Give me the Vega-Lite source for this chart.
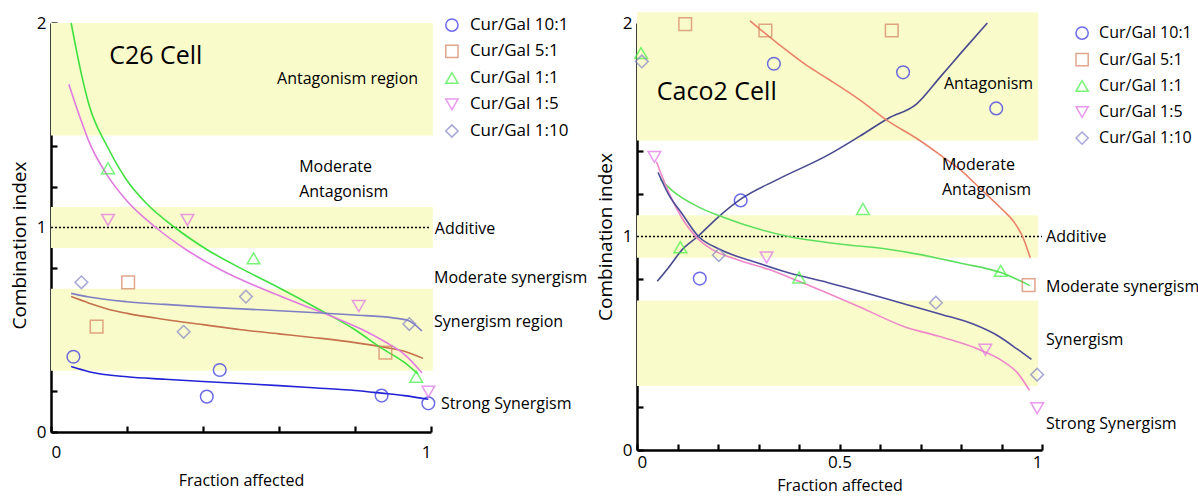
{
  "$schema": "https://vega.github.io/schema/vega-lite/v6.json",
  "padding": {"left": 10, "top": 12, "right": 0, "bottom": 4},
  "background": "white",
  "config": {
    "font": "Open Sans",
    "view": {"stroke": null},
    "axis": {
      "domainColor": "black", "domainWidth": 2.5, "tickColor": "black", "tickWidth": 2.2, "tickSize": -6,
      "labelFont": "Open Sans", "labelFontSize": 17, "labelColor": "black", "titleFont": "Open Sans",
      "titleFontSize": 16, "titleFontWeight": "normal", "titleColor": "black", "grid": false
    }
  },
  "datasets": {
    "pts": [
      {"panel": "L", "series": "Cur/Gal 10:1", "fa": 0.059, "ci": 0.368},
      {"panel": "L", "series": "Cur/Gal 10:1", "fa": 0.41, "ci": 0.173},
      {"panel": "L", "series": "Cur/Gal 10:1", "fa": 0.444, "ci": 0.303},
      {"panel": "L", "series": "Cur/Gal 10:1", "fa": 0.87, "ci": 0.178},
      {"panel": "L", "series": "Cur/Gal 10:1", "fa": 0.993, "ci": 0.14},
      {"panel": "L", "series": "Cur/Gal 5:1", "fa": 0.12, "ci": 0.515},
      {"panel": "L", "series": "Cur/Gal 5:1", "fa": 0.203, "ci": 0.732},
      {"panel": "L", "series": "Cur/Gal 5:1", "fa": 0.88, "ci": 0.388},
      {"panel": "L", "series": "Cur/Gal 1:1", "fa": 0.15, "ci": 1.29},
      {"panel": "L", "series": "Cur/Gal 1:1", "fa": 0.533, "ci": 0.849},
      {"panel": "L", "series": "Cur/Gal 1:1", "fa": 0.961, "ci": 0.27},
      {"panel": "L", "series": "Cur/Gal 1:5", "fa": 0.15, "ci": 1.037},
      {"panel": "L", "series": "Cur/Gal 1:5", "fa": 0.359, "ci": 1.037},
      {"panel": "L", "series": "Cur/Gal 1:5", "fa": 0.81, "ci": 0.616},
      {"panel": "L", "series": "Cur/Gal 1:5", "fa": 0.993, "ci": 0.197},
      {"panel": "L", "series": "Cur/Gal 1:10", "fa": 0.08, "ci": 0.732},
      {"panel": "L", "series": "Cur/Gal 1:10", "fa": 0.349, "ci": 0.49},
      {"panel": "L", "series": "Cur/Gal 1:10", "fa": 0.513, "ci": 0.662},
      {"panel": "L", "series": "Cur/Gal 1:10", "fa": 0.943, "ci": 0.528},
      {"panel": "R", "series": "Cur/Gal 10:1", "fa": 0.155, "ci": 0.803},
      {"panel": "R", "series": "Cur/Gal 10:1", "fa": 0.256, "ci": 1.169},
      {"panel": "R", "series": "Cur/Gal 10:1", "fa": 0.338, "ci": 1.809},
      {"panel": "R", "series": "Cur/Gal 10:1", "fa": 0.657, "ci": 1.769},
      {"panel": "R", "series": "Cur/Gal 10:1", "fa": 0.887, "ci": 1.6},
      {"panel": "R", "series": "Cur/Gal 5:1", "fa": 0.119, "ci": 1.995},
      {"panel": "R", "series": "Cur/Gal 5:1", "fa": 0.317, "ci": 1.965},
      {"panel": "R", "series": "Cur/Gal 5:1", "fa": 0.629, "ci": 1.965},
      {"panel": "R", "series": "Cur/Gal 5:1", "fa": 0.967, "ci": 0.772},
      {"panel": "R", "series": "Cur/Gal 1:1", "fa": 0.01, "ci": 1.859},
      {"panel": "R", "series": "Cur/Gal 1:1", "fa": 0.107, "ci": 0.95},
      {"panel": "R", "series": "Cur/Gal 1:1", "fa": 0.4, "ci": 0.808},
      {"panel": "R", "series": "Cur/Gal 1:1", "fa": 0.558, "ci": 1.129},
      {"panel": "R", "series": "Cur/Gal 1:1", "fa": 0.898, "ci": 0.839},
      {"panel": "R", "series": "Cur/Gal 1:5", "fa": 0.043, "ci": 1.373},
      {"panel": "R", "series": "Cur/Gal 1:5", "fa": 0.32, "ci": 0.902},
      {"panel": "R", "series": "Cur/Gal 1:5", "fa": 0.86, "ci": 0.47},
      {"panel": "R", "series": "Cur/Gal 1:5", "fa": 0.988, "ci": 0.196},
      {"panel": "R", "series": "Cur/Gal 1:10", "fa": 0.012, "ci": 1.82},
      {"panel": "R", "series": "Cur/Gal 1:10", "fa": 0.202, "ci": 0.913},
      {"panel": "R", "series": "Cur/Gal 1:10", "fa": 0.738, "ci": 0.69},
      {"panel": "R", "series": "Cur/Gal 1:10", "fa": 0.988, "ci": 0.353}
    ],
    "legend": [
      {"panel": "L", "series": "Cur/Gal 10:1", "fa": 1.055, "ci": 1.99},
      {"panel": "L", "series": "Cur/Gal 5:1", "fa": 1.055, "ci": 1.861},
      {"panel": "L", "series": "Cur/Gal 1:1", "fa": 1.055, "ci": 1.731},
      {"panel": "L", "series": "Cur/Gal 1:5", "fa": 1.055, "ci": 1.602},
      {"panel": "L", "series": "Cur/Gal 1:10", "fa": 1.055, "ci": 1.472},
      {"panel": "R", "series": "Cur/Gal 10:1", "fa": 1.099, "ci": 1.953},
      {"panel": "R", "series": "Cur/Gal 5:1", "fa": 1.099, "ci": 1.829},
      {"panel": "R", "series": "Cur/Gal 1:1", "fa": 1.099, "ci": 1.705},
      {"panel": "R", "series": "Cur/Gal 1:5", "fa": 1.099, "ci": 1.583},
      {"panel": "R", "series": "Cur/Gal 1:10", "fa": 1.099, "ci": 1.461}
    ],
    "curves": [
      {"panel": "L", "series": "Cur/Gal 10:1", "fa": 0.053, "ci": 0.32},
      {"panel": "L", "series": "Cur/Gal 10:1", "fa": 0.1, "ci": 0.295},
      {"panel": "L", "series": "Cur/Gal 10:1", "fa": 0.2, "ci": 0.27},
      {"panel": "L", "series": "Cur/Gal 10:1", "fa": 0.3, "ci": 0.258},
      {"panel": "L", "series": "Cur/Gal 10:1", "fa": 0.4, "ci": 0.247},
      {"panel": "L", "series": "Cur/Gal 10:1", "fa": 0.5, "ci": 0.237},
      {"panel": "L", "series": "Cur/Gal 10:1", "fa": 0.6, "ci": 0.227},
      {"panel": "L", "series": "Cur/Gal 10:1", "fa": 0.7, "ci": 0.215},
      {"panel": "L", "series": "Cur/Gal 10:1", "fa": 0.8, "ci": 0.203},
      {"panel": "L", "series": "Cur/Gal 10:1", "fa": 0.87, "ci": 0.19},
      {"panel": "L", "series": "Cur/Gal 10:1", "fa": 0.93, "ci": 0.178},
      {"panel": "L", "series": "Cur/Gal 10:1", "fa": 0.993, "ci": 0.16},
      {"panel": "L", "series": "Cur/Gal 5:1", "fa": 0.053, "ci": 0.662},
      {"panel": "L", "series": "Cur/Gal 5:1", "fa": 0.1, "ci": 0.63},
      {"panel": "L", "series": "Cur/Gal 5:1", "fa": 0.15, "ci": 0.6},
      {"panel": "L", "series": "Cur/Gal 5:1", "fa": 0.2, "ci": 0.58},
      {"panel": "L", "series": "Cur/Gal 5:1", "fa": 0.3, "ci": 0.55},
      {"panel": "L", "series": "Cur/Gal 5:1", "fa": 0.4, "ci": 0.525},
      {"panel": "L", "series": "Cur/Gal 5:1", "fa": 0.5, "ci": 0.5},
      {"panel": "L", "series": "Cur/Gal 5:1", "fa": 0.6, "ci": 0.48},
      {"panel": "L", "series": "Cur/Gal 5:1", "fa": 0.7, "ci": 0.46},
      {"panel": "L", "series": "Cur/Gal 5:1", "fa": 0.8, "ci": 0.437},
      {"panel": "L", "series": "Cur/Gal 5:1", "fa": 0.87, "ci": 0.417},
      {"panel": "L", "series": "Cur/Gal 5:1", "fa": 0.93, "ci": 0.395},
      {"panel": "L", "series": "Cur/Gal 5:1", "fa": 0.979, "ci": 0.36},
      {"panel": "L", "series": "Cur/Gal 1:1", "fa": 0.053, "ci": 2.0},
      {"panel": "L", "series": "Cur/Gal 1:1", "fa": 0.08, "ci": 1.75},
      {"panel": "L", "series": "Cur/Gal 1:1", "fa": 0.1, "ci": 1.6},
      {"panel": "L", "series": "Cur/Gal 1:1", "fa": 0.15, "ci": 1.39},
      {"panel": "L", "series": "Cur/Gal 1:1", "fa": 0.2, "ci": 1.23},
      {"panel": "L", "series": "Cur/Gal 1:1", "fa": 0.25, "ci": 1.12},
      {"panel": "L", "series": "Cur/Gal 1:1", "fa": 0.326, "ci": 1.0},
      {"panel": "L", "series": "Cur/Gal 1:1", "fa": 0.412, "ci": 0.89},
      {"panel": "L", "series": "Cur/Gal 1:1", "fa": 0.5, "ci": 0.8},
      {"panel": "L", "series": "Cur/Gal 1:1", "fa": 0.6, "ci": 0.705},
      {"panel": "L", "series": "Cur/Gal 1:1", "fa": 0.7, "ci": 0.605},
      {"panel": "L", "series": "Cur/Gal 1:1", "fa": 0.8, "ci": 0.5},
      {"panel": "L", "series": "Cur/Gal 1:1", "fa": 0.87, "ci": 0.41},
      {"panel": "L", "series": "Cur/Gal 1:1", "fa": 0.93, "ci": 0.34},
      {"panel": "L", "series": "Cur/Gal 1:1", "fa": 0.965, "ci": 0.285},
      {"panel": "L", "series": "Cur/Gal 1:5", "fa": 0.047, "ci": 1.7},
      {"panel": "L", "series": "Cur/Gal 1:5", "fa": 0.08, "ci": 1.52},
      {"panel": "L", "series": "Cur/Gal 1:5", "fa": 0.1, "ci": 1.42},
      {"panel": "L", "series": "Cur/Gal 1:5", "fa": 0.15, "ci": 1.25},
      {"panel": "L", "series": "Cur/Gal 1:5", "fa": 0.2, "ci": 1.13},
      {"panel": "L", "series": "Cur/Gal 1:5", "fa": 0.276, "ci": 1.0},
      {"panel": "L", "series": "Cur/Gal 1:5", "fa": 0.357, "ci": 0.89},
      {"panel": "L", "series": "Cur/Gal 1:5", "fa": 0.45, "ci": 0.79},
      {"panel": "L", "series": "Cur/Gal 1:5", "fa": 0.55, "ci": 0.705},
      {"panel": "L", "series": "Cur/Gal 1:5", "fa": 0.65, "ci": 0.63},
      {"panel": "L", "series": "Cur/Gal 1:5", "fa": 0.74, "ci": 0.565},
      {"panel": "L", "series": "Cur/Gal 1:5", "fa": 0.82, "ci": 0.5},
      {"panel": "L", "series": "Cur/Gal 1:5", "fa": 0.88, "ci": 0.44},
      {"panel": "L", "series": "Cur/Gal 1:5", "fa": 0.93, "ci": 0.38},
      {"panel": "L", "series": "Cur/Gal 1:5", "fa": 0.976, "ci": 0.29},
      {"panel": "L", "series": "Cur/Gal 1:10", "fa": 0.053, "ci": 0.678},
      {"panel": "L", "series": "Cur/Gal 1:10", "fa": 0.1, "ci": 0.66},
      {"panel": "L", "series": "Cur/Gal 1:10", "fa": 0.2, "ci": 0.637},
      {"panel": "L", "series": "Cur/Gal 1:10", "fa": 0.3, "ci": 0.624},
      {"panel": "L", "series": "Cur/Gal 1:10", "fa": 0.4, "ci": 0.612},
      {"panel": "L", "series": "Cur/Gal 1:10", "fa": 0.5, "ci": 0.602},
      {"panel": "L", "series": "Cur/Gal 1:10", "fa": 0.6, "ci": 0.593},
      {"panel": "L", "series": "Cur/Gal 1:10", "fa": 0.7, "ci": 0.583},
      {"panel": "L", "series": "Cur/Gal 1:10", "fa": 0.8, "ci": 0.572},
      {"panel": "L", "series": "Cur/Gal 1:10", "fa": 0.9, "ci": 0.558},
      {"panel": "L", "series": "Cur/Gal 1:10", "fa": 0.94, "ci": 0.545},
      {"panel": "L", "series": "Cur/Gal 1:10", "fa": 0.976, "ci": 0.494},
      {"panel": "R", "series": "Cur/Gal 10:1", "fa": 0.05, "ci": 0.79},
      {"panel": "R", "series": "Cur/Gal 10:1", "fa": 0.08, "ci": 0.86},
      {"panel": "R", "series": "Cur/Gal 10:1", "fa": 0.11, "ci": 0.935},
      {"panel": "R", "series": "Cur/Gal 10:1", "fa": 0.15, "ci": 1.0},
      {"panel": "R", "series": "Cur/Gal 10:1", "fa": 0.2, "ci": 1.09},
      {"panel": "R", "series": "Cur/Gal 10:1", "fa": 0.256, "ci": 1.175},
      {"panel": "R", "series": "Cur/Gal 10:1", "fa": 0.35, "ci": 1.27},
      {"panel": "R", "series": "Cur/Gal 10:1", "fa": 0.47, "ci": 1.38},
      {"panel": "R", "series": "Cur/Gal 10:1", "fa": 0.55, "ci": 1.47},
      {"panel": "R", "series": "Cur/Gal 10:1", "fa": 0.62, "ci": 1.553},
      {"panel": "R", "series": "Cur/Gal 10:1", "fa": 0.69, "ci": 1.62},
      {"panel": "R", "series": "Cur/Gal 10:1", "fa": 0.75, "ci": 1.75},
      {"panel": "R", "series": "Cur/Gal 10:1", "fa": 0.8, "ci": 1.86},
      {"panel": "R", "series": "Cur/Gal 10:1", "fa": 0.865, "ci": 2.0},
      {"panel": "R", "series": "Cur/Gal 5:1", "fa": 0.279, "ci": 2.01},
      {"panel": "R", "series": "Cur/Gal 5:1", "fa": 0.35, "ci": 1.9},
      {"panel": "R", "series": "Cur/Gal 5:1", "fa": 0.42, "ci": 1.8},
      {"panel": "R", "series": "Cur/Gal 5:1", "fa": 0.47, "ci": 1.74},
      {"panel": "R", "series": "Cur/Gal 5:1", "fa": 0.55, "ci": 1.64},
      {"panel": "R", "series": "Cur/Gal 5:1", "fa": 0.62, "ci": 1.54},
      {"panel": "R", "series": "Cur/Gal 5:1", "fa": 0.69, "ci": 1.46},
      {"panel": "R", "series": "Cur/Gal 5:1", "fa": 0.75, "ci": 1.38},
      {"panel": "R", "series": "Cur/Gal 5:1", "fa": 0.8, "ci": 1.31},
      {"panel": "R", "series": "Cur/Gal 5:1", "fa": 0.85, "ci": 1.22},
      {"panel": "R", "series": "Cur/Gal 5:1", "fa": 0.9, "ci": 1.13},
      {"panel": "R", "series": "Cur/Gal 5:1", "fa": 0.93, "ci": 1.07},
      {"panel": "R", "series": "Cur/Gal 5:1", "fa": 0.952, "ci": 1.0},
      {"panel": "R", "series": "Cur/Gal 5:1", "fa": 0.971, "ci": 0.9},
      {"panel": "R", "series": "Cur/Gal 1:1", "fa": 0.057, "ci": 1.27},
      {"panel": "R", "series": "Cur/Gal 1:1", "fa": 0.09, "ci": 1.21},
      {"panel": "R", "series": "Cur/Gal 1:1", "fa": 0.15, "ci": 1.14},
      {"panel": "R", "series": "Cur/Gal 1:1", "fa": 0.213, "ci": 1.09},
      {"panel": "R", "series": "Cur/Gal 1:1", "fa": 0.3, "ci": 1.035},
      {"panel": "R", "series": "Cur/Gal 1:1", "fa": 0.374, "ci": 1.0},
      {"panel": "R", "series": "Cur/Gal 1:1", "fa": 0.5, "ci": 0.965},
      {"panel": "R", "series": "Cur/Gal 1:1", "fa": 0.62, "ci": 0.94},
      {"panel": "R", "series": "Cur/Gal 1:1", "fa": 0.7, "ci": 0.915},
      {"panel": "R", "series": "Cur/Gal 1:1", "fa": 0.8, "ci": 0.875},
      {"panel": "R", "series": "Cur/Gal 1:1", "fa": 0.9, "ci": 0.83},
      {"panel": "R", "series": "Cur/Gal 1:1", "fa": 0.97, "ci": 0.77},
      {"panel": "R", "series": "Cur/Gal 1:5", "fa": 0.048, "ci": 1.35},
      {"panel": "R", "series": "Cur/Gal 1:5", "fa": 0.08, "ci": 1.2},
      {"panel": "R", "series": "Cur/Gal 1:5", "fa": 0.11, "ci": 1.09},
      {"panel": "R", "series": "Cur/Gal 1:5", "fa": 0.15, "ci": 0.99},
      {"panel": "R", "series": "Cur/Gal 1:5", "fa": 0.185, "ci": 0.94},
      {"panel": "R", "series": "Cur/Gal 1:5", "fa": 0.25, "ci": 0.89},
      {"panel": "R", "series": "Cur/Gal 1:5", "fa": 0.326, "ci": 0.845},
      {"panel": "R", "series": "Cur/Gal 1:5", "fa": 0.4, "ci": 0.79},
      {"panel": "R", "series": "Cur/Gal 1:5", "fa": 0.468, "ci": 0.737},
      {"panel": "R", "series": "Cur/Gal 1:5", "fa": 0.55, "ci": 0.67},
      {"panel": "R", "series": "Cur/Gal 1:5", "fa": 0.657, "ci": 0.58},
      {"panel": "R", "series": "Cur/Gal 1:5", "fa": 0.75, "ci": 0.53},
      {"panel": "R", "series": "Cur/Gal 1:5", "fa": 0.846, "ci": 0.47},
      {"panel": "R", "series": "Cur/Gal 1:5", "fa": 0.9, "ci": 0.42},
      {"panel": "R", "series": "Cur/Gal 1:5", "fa": 0.94, "ci": 0.36},
      {"panel": "R", "series": "Cur/Gal 1:5", "fa": 0.969, "ci": 0.28},
      {"panel": "R", "series": "Cur/Gal 1:10", "fa": 0.052, "ci": 1.3},
      {"panel": "R", "series": "Cur/Gal 1:10", "fa": 0.08, "ci": 1.19},
      {"panel": "R", "series": "Cur/Gal 1:10", "fa": 0.11, "ci": 1.11},
      {"panel": "R", "series": "Cur/Gal 1:10", "fa": 0.152, "ci": 1.0},
      {"panel": "R", "series": "Cur/Gal 1:10", "fa": 0.204, "ci": 0.94},
      {"panel": "R", "series": "Cur/Gal 1:10", "fa": 0.3, "ci": 0.875},
      {"panel": "R", "series": "Cur/Gal 1:10", "fa": 0.374, "ci": 0.83},
      {"panel": "R", "series": "Cur/Gal 1:10", "fa": 0.47, "ci": 0.785},
      {"panel": "R", "series": "Cur/Gal 1:10", "fa": 0.563, "ci": 0.737},
      {"panel": "R", "series": "Cur/Gal 1:10", "fa": 0.65, "ci": 0.69},
      {"panel": "R", "series": "Cur/Gal 1:10", "fa": 0.752, "ci": 0.635},
      {"panel": "R", "series": "Cur/Gal 1:10", "fa": 0.83, "ci": 0.59},
      {"panel": "R", "series": "Cur/Gal 1:10", "fa": 0.893, "ci": 0.533},
      {"panel": "R", "series": "Cur/Gal 1:10", "fa": 0.94, "ci": 0.471},
      {"panel": "R", "series": "Cur/Gal 1:10", "fa": 0.974, "ci": 0.424}
    ],
    "bands": [
      {"panel": "L", "x1": 0, "x2": 1.005, "y1": 1.45, "y2": 2.0},
      {"panel": "L", "x1": 0, "x2": 1.005, "y1": 0.9, "y2": 1.1},
      {"panel": "L", "x1": 0, "x2": 1.005, "y1": 0.3, "y2": 0.7},
      {"panel": "R", "x1": 0, "x2": 0.99, "y1": 1.45, "y2": 2.05},
      {"panel": "R", "x1": 0, "x2": 0.99, "y1": 0.9, "y2": 1.1},
      {"panel": "R", "x1": 0, "x2": 0.99, "y1": 0.3, "y2": 0.7}
    ],
    "notes": [
      {"panel": "L", "fa": 0.595, "ci": 1.726, "label": "Antagonism region"},
      {"panel": "L", "fa": 0.653, "ci": 1.296, "label": "Moderate"},
      {"panel": "L", "fa": 0.653, "ci": 1.174, "label": "Antagonism"},
      {"panel": "L", "fa": 1.01, "ci": 0.995, "label": "Additive"},
      {"panel": "L", "fa": 1.008, "ci": 0.753, "label": "Moderate synergism"},
      {"panel": "L", "fa": 1.008, "ci": 0.538, "label": "Synergism region"},
      {"panel": "L", "fa": 1.026, "ci": 0.137, "label": "Strong Synergism"},
      {"panel": "R", "fa": 0.758, "ci": 1.713, "label": "Antagonism"},
      {"panel": "R", "fa": 0.753, "ci": 1.336, "label": "Moderate"},
      {"panel": "R", "fa": 0.753, "ci": 1.219, "label": "Antagonism"},
      {"panel": "R", "fa": 1.01, "ci": 0.998, "label": "Additive"},
      {"panel": "R", "fa": 1.01, "ci": 0.762, "label": "Moderate synergism"},
      {"panel": "R", "fa": 1.01, "ci": 0.513, "label": "Synergism"},
      {"panel": "R", "fa": 1.01, "ci": 0.122, "label": "Strong Synergism"}
    ],
    "cells": [
      {"panel": "L", "fa": 0.153, "ci": 1.84, "label": "C26 Cell"},
      {"panel": "R", "fa": 0.049, "ci": 1.675, "label": "Caco2 Cell"}
    ],
    "additive": [
      {"panel": "L", "x1": 0, "x2": 1.0, "ci": 1},
      {"panel": "R", "x1": 0, "x2": 1.0, "ci": 1}
    ]
  },
  "hconcat": [
    {
      "width": 380, "height": 409,
      "layer": [
        {"data": {"name": "bands"}, "transform": [{"filter": "datum.panel === 'L'"}],
         "mark": {"type": "rect", "color": "#fafbcb"},
         "encoding": {"x": {"field": "x1", "type": "quantitative", "scale": {"domain": [0, 1]}}, "x2": {"field": "x2"},
                      "y": {"field": "y1", "type": "quantitative", "scale": {"domain": [0, 2]}}, "y2": {"field": "y2"}}},
        {"data": {"name": "additive"}, "transform": [{"filter": "datum.panel === 'L'"}],
         "mark": {"type": "rule", "color": "black", "strokeDash": [2, 2], "strokeWidth": 1.5},
         "encoding": {"x": {"field": "x1", "type": "quantitative"}, "x2": {"field": "x2"}, "y": {"field": "ci", "type": "quantitative"}}},
        {"data": {"name": "curves"}, "transform": [{"filter": "datum.panel === 'L'"}],
         "mark": {"type": "line", "strokeWidth": 1.6, "interpolate": "monotone"},
         "encoding": {
           "x": {"field": "fa", "type": "quantitative"},
           "y": {"field": "ci", "type": "quantitative"},
           "detail": {"field": "series"},
           "stroke": {"field": "series", "type": "nominal", "legend": null,
             "scale": {"domain": ["Cur/Gal 10:1", "Cur/Gal 5:1", "Cur/Gal 1:1", "Cur/Gal 1:5", "Cur/Gal 1:10"],
                       "range": ["#2323d6", "#c4714c", "#3fe03f", "#e07ae0", "#7f7fc4"]}}
         }},
        {"data": {"name": "pts"}, "transform": [{"filter": "datum.panel === 'L'"}],
         "mark": {"type": "point", "filled": false, "size": 160, "strokeWidth": 1.5},
         "encoding": {
           "x": {"field": "fa", "type": "quantitative", "title": "Fraction affected",
                 "axis": {"values": [0, 0.1, 0.2, 0.3, 0.4, 0.5, 0.6, 0.7, 0.8, 0.9, 1], "labelExpr": "datum.value == 0 ? '0' : datum.value == 0.5 ? '0.5' : datum.value == 1 ? '1' : ''", "labelPadding": 18, "titlePadding": 12}},
           "y": {"field": "ci", "type": "quantitative", "title": "Combination index",
                 "axis": {"values": [0, 0.1, 0.2, 0.3, 0.4, 0.5, 0.6, 0.7, 0.8, 0.9, 1, 1.1, 1.2, 1.3, 1.4, 1.5, 1.6, 1.7, 1.8, 1.9, 2], "labelExpr": "datum.value == 0 ? '0' : datum.value == 1 ? '1' : datum.value == 2 ? '2' : ''", "labelPadding": 11, "titlePadding": 7, "titleFontSize": 19, "titleY": 222}},
           "color": {"field": "series", "type": "nominal", "legend": null,
             "scale": {"domain": ["Cur/Gal 10:1", "Cur/Gal 5:1", "Cur/Gal 1:1", "Cur/Gal 1:5", "Cur/Gal 1:10"],
                       "range": ["#2e2ee0", "#d4815f", "#3ff03f", "#e070e6", "#8383c6"]}},
           "shape": {"field": "series", "type": "nominal", "legend": null,
             "scale": {"domain": ["Cur/Gal 10:1", "Cur/Gal 5:1", "Cur/Gal 1:1", "Cur/Gal 1:5", "Cur/Gal 1:10"],
                       "range": ["circle", "square", "triangle-up", "triangle-down", "diamond"]}}
         }},
        {"data": {"name": "legend"}, "transform": [{"filter": "datum.panel === 'L'"}],
         "mark": {"type": "point", "filled": false, "size": 150, "strokeWidth": 1.5},
         "encoding": {
           "x": {"field": "fa", "type": "quantitative"},
           "y": {"field": "ci", "type": "quantitative"},
           "color": {"field": "series", "type": "nominal", "legend": null},
           "shape": {"field": "series", "type": "nominal", "legend": null}
         }},
        {"data": {"name": "legend"}, "transform": [{"filter": "datum.panel === 'L'"}],
         "mark": {"type": "text", "align": "left", "baseline": "middle", "fontSize": 17, "color": "black", "dx": 18},
         "encoding": {"x": {"field": "fa", "type": "quantitative"}, "y": {"field": "ci", "type": "quantitative"}, "text": {"field": "series"}}},
        {"data": {"name": "notes"}, "transform": [{"filter": "datum.panel === 'L'"}],
         "mark": {"type": "text", "align": "left", "baseline": "middle", "fontSize": 16, "color": "black"},
         "encoding": {"x": {"field": "fa", "type": "quantitative"}, "y": {"field": "ci", "type": "quantitative"}, "text": {"field": "label"}}},
        {"data": {"name": "cells"}, "transform": [{"filter": "datum.panel === 'L'"}],
         "mark": {"type": "text", "align": "left", "baseline": "middle", "fontSize": 25, "color": "black"},
         "encoding": {"x": {"field": "fa", "type": "quantitative"}, "y": {"field": "ci", "type": "quantitative"}, "text": {"field": "label"}}}
      ]
    },
    {
      "width": 405, "height": 427,
      "layer": [
        {"data": {"name": "bands"}, "transform": [{"filter": "datum.panel === 'R'"}],
         "mark": {"type": "rect", "color": "#fafbcb"},
         "encoding": {"x": {"field": "x1", "type": "quantitative", "scale": {"domain": [0, 1]}}, "x2": {"field": "x2"},
                      "y": {"field": "y1", "type": "quantitative", "scale": {"domain": [0, 2]}}, "y2": {"field": "y2"}}},
        {"data": {"name": "additive"}, "transform": [{"filter": "datum.panel === 'R'"}],
         "mark": {"type": "rule", "color": "black", "strokeDash": [2, 2], "strokeWidth": 1.5},
         "encoding": {"x": {"field": "x1", "type": "quantitative"}, "x2": {"field": "x2"}, "y": {"field": "ci", "type": "quantitative"}}},
        {"data": {"name": "curves"}, "transform": [{"filter": "datum.panel === 'R'"}],
         "mark": {"type": "line", "strokeWidth": 1.6, "interpolate": "monotone"},
         "encoding": {
           "x": {"field": "fa", "type": "quantitative"},
           "y": {"field": "ci", "type": "quantitative"},
           "detail": {"field": "series"},
           "stroke": {"field": "series", "type": "nominal", "legend": null,
             "scale": {"domain": ["Cur/Gal 10:1", "Cur/Gal 5:1", "Cur/Gal 1:1", "Cur/Gal 1:5", "Cur/Gal 1:10"],
                       "range": ["#474a8c", "#e8836a", "#5fdf5f", "#ee88c8", "#4c4c98"]}}
         }},
        {"data": {"name": "pts"}, "transform": [{"filter": "datum.panel === 'R'"}],
         "mark": {"type": "point", "filled": false, "size": 160, "strokeWidth": 1.5},
         "encoding": {
           "x": {"field": "fa", "type": "quantitative", "title": "Fraction affected",
                 "axis": {"values": [0, 0.1, 0.2, 0.3, 0.4, 0.5, 0.6, 0.7, 0.8, 0.9, 1], "labelExpr": "datum.value == 0 ? '0' : datum.value == 0.5 ? '0.5' : datum.value == 1 ? '1' : ''", "labelPadding": 10, "titlePadding": 7}},
           "y": {"field": "ci", "type": "quantitative", "title": "Combination index",
                 "axis": {"values": [0, 0.1, 0.2, 0.3, 0.4, 0.5, 0.6, 0.7, 0.8, 0.9, 1, 1.1, 1.2, 1.3, 1.4, 1.5, 1.6, 1.7, 1.8, 1.9, 2], "labelExpr": "datum.value == 0 ? '0' : datum.value == 1 ? '1' : datum.value == 2 ? '2' : ''", "labelPadding": 11, "titlePadding": 7, "titleFontSize": 19}},
           "color": {"field": "series", "type": "nominal", "legend": null,
             "scale": {"domain": ["Cur/Gal 10:1", "Cur/Gal 5:1", "Cur/Gal 1:1", "Cur/Gal 1:5", "Cur/Gal 1:10"],
                       "range": ["#2e2ee0", "#d4815f", "#3ff03f", "#e070e6", "#8383c6"]}},
           "shape": {"field": "series", "type": "nominal", "legend": null,
             "scale": {"domain": ["Cur/Gal 10:1", "Cur/Gal 5:1", "Cur/Gal 1:1", "Cur/Gal 1:5", "Cur/Gal 1:10"],
                       "range": ["circle", "square", "triangle-up", "triangle-down", "diamond"]}}
         }},
        {"data": {"name": "legend"}, "transform": [{"filter": "datum.panel === 'R'"}],
         "mark": {"type": "point", "filled": false, "size": 150, "strokeWidth": 1.5},
         "encoding": {
           "x": {"field": "fa", "type": "quantitative"},
           "y": {"field": "ci", "type": "quantitative"},
           "color": {"field": "series", "type": "nominal", "legend": null},
           "shape": {"field": "series", "type": "nominal", "legend": null}
         }},
        {"data": {"name": "legend"}, "transform": [{"filter": "datum.panel === 'R'"}],
         "mark": {"type": "text", "align": "left", "baseline": "middle", "fontSize": 16, "color": "black", "dx": 17},
         "encoding": {"x": {"field": "fa", "type": "quantitative"}, "y": {"field": "ci", "type": "quantitative"}, "text": {"field": "series"}}},
        {"data": {"name": "notes"}, "transform": [{"filter": "datum.panel === 'R'"}],
         "mark": {"type": "text", "align": "left", "baseline": "middle", "fontSize": 16, "color": "black"},
         "encoding": {"x": {"field": "fa", "type": "quantitative"}, "y": {"field": "ci", "type": "quantitative"}, "text": {"field": "label"}}},
        {"data": {"name": "cells"}, "transform": [{"filter": "datum.panel === 'R'"}],
         "mark": {"type": "text", "align": "left", "baseline": "middle", "fontSize": 25, "color": "black"},
         "encoding": {"x": {"field": "fa", "type": "quantitative"}, "y": {"field": "ci", "type": "quantitative"}, "text": {"field": "label"}}}
      ]
    }
  ],
  "spacing": 206,
  "bounds": "flush",
  "resolve": {
    "scale": {"color": "independent", "shape": "independent", "stroke": "independent", "x": "independent", "y": "independent"}
  }
}
